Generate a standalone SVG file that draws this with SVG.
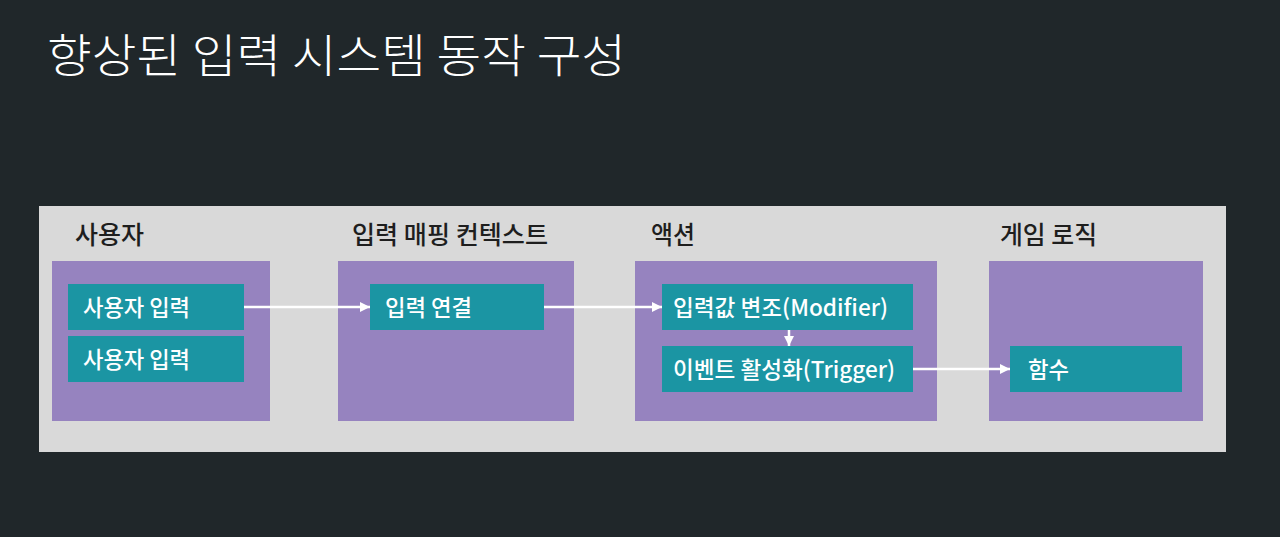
<svg xmlns="http://www.w3.org/2000/svg" width="1280" height="537" viewBox="0 0 1280 537">
<defs>
<style>
.kr{font-family:"Noto Sans CJK KR","Noto Sans",sans-serif;}
.title{font-size:46px;font-weight:300;fill:#ffffff;}
.hdr{font-size:25px;font-weight:500;fill:#1e1e1e;}
.grp{fill:#9683bf;}
.node{fill:#1b95a3;}
.lbl{font-size:22.5px;font-weight:500;fill:#ffffff;}
.conn{stroke:#ffffff;stroke-width:2.5;fill:none;}
</style>
<marker id="ah" viewBox="0 0 10 10" refX="10" refY="5" markerWidth="4" markerHeight="4" orient="auto" markerUnits="strokeWidth">
<path d="M0,0 L10,5 L0,10 z" fill="#ffffff"/>
</marker>
</defs>
<rect x="0" y="0" width="1280" height="537" fill="#20272a"/>
<text class="kr title" x="47" y="72" textLength="579" lengthAdjust="spacingAndGlyphs">향상된 입력 시스템 동작 구성</text>
<rect x="39" y="206" width="1187" height="246" fill="#d9d9d9"/>

<g id="user">
<text class="kr hdr" x="75" y="244" textLength="69" lengthAdjust="spacingAndGlyphs">사용자</text>
<rect class="grp" x="52" y="261" width="218" height="160"/>
</g>
<g id="user-input-1">
<rect class="node" x="68" y="284" width="176" height="46"/>
<text class="kr lbl" x="83" y="316" textLength="107" lengthAdjust="spacingAndGlyphs">사용자 입력</text>
</g>
<g id="user-input-2">
<rect class="node" x="68" y="336" width="176" height="46"/>
<text class="kr lbl" x="83" y="368" textLength="107" lengthAdjust="spacingAndGlyphs">사용자 입력</text>
</g>

<g id="mapping-context">
<text class="kr hdr" x="352" y="244" textLength="196" lengthAdjust="spacingAndGlyphs">입력 매핑 컨텍스트</text>
<rect class="grp" x="338" y="261" width="236" height="160"/>
</g>
<g id="input-binding">
<rect class="node" x="370" y="284" width="174" height="46"/>
<text class="kr lbl" x="385" y="316" textLength="87" lengthAdjust="spacingAndGlyphs">입력 연결</text>
</g>

<g id="action">
<text class="kr hdr" x="651" y="244" textLength="44" lengthAdjust="spacingAndGlyphs">액션</text>
<rect class="grp" x="635" y="261" width="302" height="160"/>
</g>
<g id="modifier">
<rect class="node" x="662" y="284" width="251" height="46"/>
<text class="kr lbl" x="673" y="316" textLength="215" lengthAdjust="spacingAndGlyphs">입력값 변조(Modifier)</text>
</g>
<g id="trigger">
<rect class="node" x="662" y="346" width="251" height="46"/>
<text class="kr lbl" x="673" y="378" textLength="222" lengthAdjust="spacingAndGlyphs">이벤트 활성화(Trigger)</text>
</g>

<g id="game-logic">
<text class="kr hdr" x="1000" y="244" textLength="97" lengthAdjust="spacingAndGlyphs">게임 로직</text>
<rect class="grp" x="989" y="261" width="214" height="160"/>
</g>
<g id="function">
<rect class="node" x="1010" y="346" width="172" height="46"/>
<text class="kr lbl" x="1028" y="378" textLength="41" lengthAdjust="spacingAndGlyphs">함수</text>
</g>

<g id="connectors">
<line class="conn" x1="244" y1="307" x2="370" y2="307" marker-end="url(#ah)"/>
<line class="conn" x1="544" y1="307" x2="662" y2="307" marker-end="url(#ah)"/>
<line class="conn" x1="789" y1="330" x2="789" y2="346" marker-end="url(#ah)"/>
<line class="conn" x1="913" y1="369" x2="1010" y2="369" marker-end="url(#ah)"/>
</g>
</svg>
